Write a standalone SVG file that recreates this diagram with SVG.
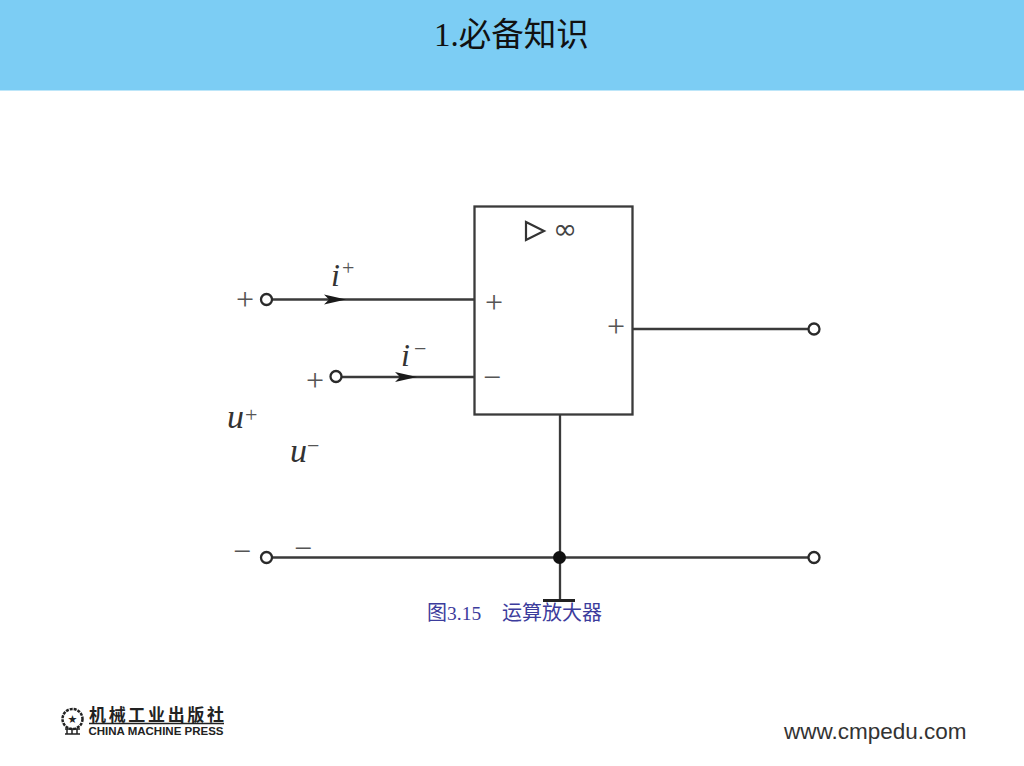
<svg xmlns="http://www.w3.org/2000/svg" width="1024" height="766" viewBox="0 0 1024 766">
<style>
.w{fill:none;stroke:#3a3a3a;stroke-width:2.300}
.t{fill:#fff;stroke:#2a2a2a;stroke-width:2.300}
.i{font-family:"Liberation Serif",serif;font-style:italic;fill:#333}
.m{font-family:"Liberation Serif",serif;fill:#555;font-size:22px}
.p{font-family:"Liberation Serif",serif;fill:#555;font-size:32px;text-anchor:middle}
</style>
<defs><marker id="a" markerUnits="userSpaceOnUse" markerWidth="23" markerHeight="11" refX="22" refY="5.500" orient="auto"><path d="M0 .5 L22 5.500 L0 10.500 L5 5.500Z" fill="#1a1a1a"/></marker></defs>
<rect x="0" y="0" width="1024" height="90.500" fill="#7ccdf4"/>
<text x="434" y="46" font-size="33" fill="#111" font-family="Liberation Serif,Noto Sans CJK SC,serif">1.<tspan font-family="Noto Sans CJK SC,sans-serif" font-size="32.500">必备知识</tspan></text>
<g id="connectors">
<path class="w" d="M272 299.500H346" marker-end="url(#a)"/><path class="w" d="M346 299.500H475"/>
<path class="w" d="M342 377H417" marker-end="url(#a)"/><path class="w" d="M417 377H475"/>
<path class="w" d="M633 329H808"/>
<path class="w" d="M272 557.500H808"/>
<path class="w" d="M560 414V600"/>
<path d="M543 600.500H575" stroke="#222" stroke-width="3" fill="none"/>
<circle cx="559.500" cy="557.500" r="6.500" fill="#111"/>
</g>
<g id="amp">
<rect x="474.500" y="206.500" width="158" height="208" fill="#fff" stroke="#3a3a3a" stroke-width="2.300"/>
<path d="M526 222L544 231L526 240Z" fill="none" stroke="#333" stroke-width="2.200"/>
<text x="565" y="239" font-size="29" text-anchor="middle" fill="#444" font-family="DejaVu Sans,sans-serif">∞</text>
<text class="p" x="494" y="313">+</text>
<text class="p" x="492" y="388">−</text>
<text class="p" x="616" y="337">+</text>
</g>
<g id="n1"><circle class="t" cx="266.500" cy="299.500" r="5.500"/><text class="p" x="245" y="310">+</text></g>
<g id="n2"><circle class="t" cx="336" cy="376.500" r="5.500"/><text class="p" x="315" y="391">+</text></g>
<g id="n3"><circle class="t" cx="814" cy="329" r="5.500"/></g>
<g id="n4"><circle class="t" cx="266.500" cy="557.500" r="5.500"/><text class="p" x="242" y="562">−</text><text class="p" x="303" y="559">−</text></g>
<g id="n5"><circle class="t" cx="814" cy="557.500" r="5.500"/></g>
<text class="i" font-size="32" x="331" y="286">i</text><text class="m" x="342" y="275">+</text>
<text class="i" font-size="32" x="401" y="366">i</text><text class="m" x="414" y="356">−</text>
<text class="i" font-size="34" x="227" y="428">u</text><text class="m" x="245" y="422">+</text>
<text class="i" font-size="34" x="290" y="462">u</text><text class="m" x="307" y="453">−</text>
<text x="427" y="620" font-size="19.500" fill="#3c3c9c" font-family="Liberation Serif,Noto Sans CJK SC,serif"><tspan font-family="Noto Sans CJK SC,sans-serif" font-size="20">图</tspan>3.15</text>
<text x="502" y="620" font-size="20" fill="#3c3c9c" font-family="Noto Sans CJK SC,sans-serif">运算放大器</text>
<g id="logo">
<circle cx="72.500" cy="719" r="10" fill="none" stroke="#222" stroke-width="2.500" stroke-dasharray="3 1"/>
<text x="72.500" y="723" font-size="11" text-anchor="middle" fill="#222" font-family="DejaVu Sans,sans-serif">★</text>
<path d="M65 729H80M67 729V734M72 729V734M77 729V734M65 734H80" stroke="#222" stroke-width="1.500" fill="none"/>
<text x="89" y="721" font-size="17" font-weight="700" fill="#222" textLength="135" lengthAdjust="spacing" font-family="Noto Sans CJK SC,sans-serif">机械工业出版社</text>
<path d="M89 723.500H224" stroke="#222" stroke-width="1.500"/>
<text x="88.500" y="735" font-size="10.500" font-weight="700" fill="#222" textLength="135" lengthAdjust="spacingAndGlyphs" font-family="Liberation Sans,sans-serif">CHINA MACHINE PRESS</text>
</g>
<text x="784" y="739" font-size="22.500" fill="#333" font-family="Liberation Sans,sans-serif">www.cmpedu.com</text>
</svg>
